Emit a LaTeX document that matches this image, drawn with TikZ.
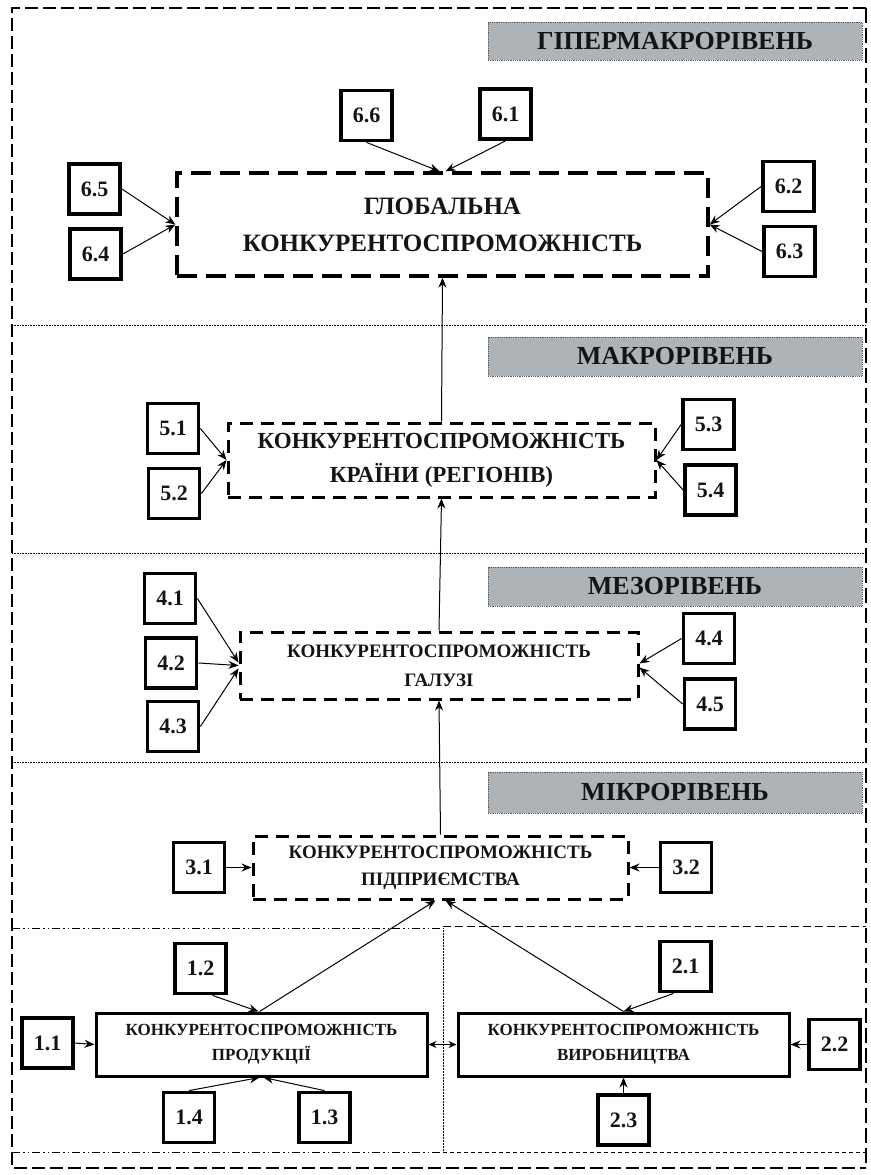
\documentclass[tikz,border=0pt]{standalone}
\usepackage{fontspec}
\setmainfont{Liberation Serif}
\usetikzlibrary{arrows.meta,calc}
\definecolor{hdrfill}{RGB}{174,179,184}
\definecolor{ink}{RGB}{20,20,20}
\begin{document}
\begin{tikzpicture}[x=1pt,y=-1pt,
  lbl/.style={draw, line width=3.8pt, minimum width=51pt, minimum height=50pt, inner sep=0pt, text=ink, font=\fontsize{22}{24}\bfseries\selectfont},
  hdr/.style={draw=black!65, densely dotted, line width=0.8pt, fill=hdrfill, minimum width=374pt, inner sep=0pt, text=ink, font=\fontsize{26}{28}\bfseries\selectfont},
  lvl/.style={draw, line width=3pt, dash pattern=on 13pt off 8pt, align=center, inner sep=0pt, text=ink},
  solidbox/.style={draw, line width=3pt, align=center, inner sep=0pt, text=ink, minimum width=331pt, minimum height=63pt, font=\fontsize{17}{25}\bfseries\selectfont},
  arr/.style={line width=1pt, -{Stealth[length=10pt,width=8pt]}},
  sep/.style={densely dotted, line width=0.6pt},
  frame/.style={line width=1.3pt, dash pattern=on 13pt off 5pt},
  dashdot/.style={line width=0.8pt, dash pattern=on 8pt off 3pt on 1.5pt off 3pt on 1.5pt off 3pt},
  rdash/.style={line width=1pt, dash pattern=on 8pt off 4pt}
]
\useasboundingbox (0,0) rectangle (870,1175);
% frame and separators
\coordinate (ftl) at (12,8); \coordinate (ftr) at (866,8);
\coordinate (fbl) at (12,1168); \coordinate (fbr) at (866,1168);
\draw[frame] (ftr) -- (ftl) -- (fbl) -- (fbr);
\draw[line width=2.5pt, dash pattern=on 15pt off 5pt] (ftr) -- (fbr);
\coordinate (s1l) at (12,325); \coordinate (s1r) at (866,325);
\coordinate (s2l) at (12,553); \coordinate (s2r) at (866,553);
\coordinate (s3l) at (12,762); \coordinate (s3r) at (866,762);
\draw[sep] (s1l) -- (s1r);
\draw[sep] (s2l) -- (s2r);
\draw[sep] (s3l) -- (s3r);
\coordinate (t0l) at (12,928); \coordinate (t0m) at (443,928); \coordinate (t0r) at (866,926);
\coordinate (t0n) at (443,926);
\coordinate (t1l) at (12,1152); \coordinate (t1m) at (443,1152); \coordinate (t1r) at (866,1152);
\draw[dashdot] (t0l) -- (t0m);
\draw[rdash] (t0n) -- (t0r);
\draw[dashdot] (t1l) -- (t1m);
\draw[line width=0.8pt, dash pattern=on 4pt off 3pt] (t1m) -- (t1r);
\draw[sep, line width=0.5pt] (t0m) -- (t1m);

% ---- level 6
\node[hdr, minimum height=38pt] (h6) at (675,41) {ГІПЕРМАКРОРІВЕНЬ};
\node[lvl, dash pattern=on 20pt off 9pt, line width=3.3pt, minimum width=531pt, minimum height=103pt, font=\fontsize{25}{37}\bfseries\selectfont] (g) at (442.5,224.5) {ГЛОБАЛЬНА\\КОНКУРЕНТОСПРОМОЖНІСТЬ};
\node[lbl] (b66) at (366.5,115.5) {6.6};
\node[lbl] (b61) at (505.5,114) {6.1};
\node[lbl] (b65) at (94.5,189) {6.5};
\node[lbl] (b64) at (95.5,254) {6.4};
\node[lbl] (b62) at (788.5,186.5) {6.2};
\node[lbl] (b63) at (789.5,251.5) {6.3};
\draw[arr] (b66.south) -- ($(g.north)+(-3,0)$);
\draw[arr] (b61.south) -- ($(g.north)+(3,0)$);
\draw[arr] (b65.east) -- (g.west);
\draw[arr] (b64.east) -- (g.west);
\draw[arr] (b62.west) -- (g.east);
\draw[arr] (b63.west) -- (g.east);

% ---- level 5
\node[hdr, minimum height=39pt] (h5) at (675,356.5) {МАКРОРІВЕНЬ};
\node[lvl, minimum width=427pt, minimum height=74pt, font=\fontsize{23}{34}\bfseries\selectfont] (m) at (441.5,460) {КОНКУРЕНТОСПРОМОЖНІСТЬ\\КРАЇНИ (РЕГІОНІВ)};
\node[lbl] (b51) at (173,428.5) {5.1};
\node[lbl] (b52) at (174,493.5) {5.2};
\node[lbl] (b53) at (708.5,424.5) {5.3};
\node[lbl] (b54) at (710.5,490) {5.4};
\draw[arr] (b51.east) -- (m.west);
\draw[arr] (b52.east) -- (m.west);
\draw[arr] (b53.west) -- (m.east);
\draw[arr] (b54.west) -- (m.east);
\draw[arr] (m.north) -- (g.south);

% ---- level 4
\node[hdr, minimum height=39pt] (h4) at (675,586.5) {МЕЗОРІВЕНЬ};
\node[lvl, minimum width=398pt, minimum height=67pt, font=\fontsize{19}{29}\bfseries\selectfont] (mz) at (439,665.5) {КОНКУРЕНТОСПРОМОЖНІСТЬ\\ГАЛУЗІ};
\node[lbl] (b41) at (170,598.5) {4.1};
\node[lbl] (b42) at (171,663) {4.2};
\node[lbl] (b43) at (173,726.5) {4.3};
\node[lbl] (b44) at (709,638.5) {4.4};
\node[lbl] (b45) at (710,704) {4.5};
\draw[arr] (b41.east) -- ($(mz.west)+(0,-3)$);
\draw[arr] (b42.east) -- (mz.west);
\draw[arr] (b43.east) -- ($(mz.west)+(0,3)$);
\draw[arr] (b44.west) -- ($(mz.east)+(0,-2)$);
\draw[arr] (b45.west) -- ($(mz.east)+(0,2)$);
\draw[arr] (mz.north) -- (m.south);

% ---- level 3
\node[hdr, minimum height=41pt] (h3) at (675,792.5) {МІКРОРІВЕНЬ};
\node[lvl, minimum width=375pt, minimum height=63pt, font=\fontsize{19}{27}\bfseries\selectfont] (mi) at (440.5,867.5) {КОНКУРЕНТОСПРОМОЖНІСТЬ\\ПІДПРИЄМСТВА};
\node[lbl] (b31) at (199,867.5) {3.1};
\node[lbl] (b32) at (686,867.5) {3.2};
\draw[arr] (b31.east) -- (mi.west);
\draw[arr] (b32.west) -- (mi.east);
\draw[arr] (mi.north) -- (mz.south);

% ---- levels 1-2
\node[solidbox] (p) at (261.5,1044.5) {КОНКУРЕНТОСПРОМОЖНІСТЬ\\ПРОДУКЦІЇ};
\node[solidbox] (q) at (623.5,1044.5) {КОНКУРЕНТОСПРОМОЖНІСТЬ\\ВИРОБНИЦТВА};
\node[lbl] (b11) at (47.5,1043) {1.1};
\node[lbl] (b12) at (200.5,968.5) {1.2};
\node[lbl] (b13) at (324.5,1117.5) {1.3};
\node[lbl] (b14) at (189,1117.5) {1.4};
\node[lbl] (b21) at (685.5,966.5) {2.1};
\node[lbl] (b22) at (834.5,1044.5) {2.2};
\node[lbl] (b23) at (623.5,1120) {2.3};
\draw[arr] ($(p.north)+(-2,0)$) -- ($(mi.south)+(-5,0)$);
\draw[arr] (q.north) -- ($(mi.south)+(5,0)$);
\draw[arr] ($(b12.south)+(12,0)$) -- ($(p.north)+(-3,0)$);
\draw[arr] ($(b21.south)+(-12,0)$) -- (q.north);
\draw[arr] (b14.north) -- ($(p.south)+(-2,0)$);
\draw[arr] (b13.north) -- ($(p.south)+(2,0)$);
\draw[arr] (b23.north) -- (q.south);
\draw[arr] (b11.east) -- (p.west);
\draw[arr] (b22.west) -- (q.east);
\draw[line width=1pt, {Stealth[length=8pt,width=7pt]}-{Stealth[length=8pt,width=7pt]}] (p.east) -- (q.west);
\end{tikzpicture}
\end{document}
